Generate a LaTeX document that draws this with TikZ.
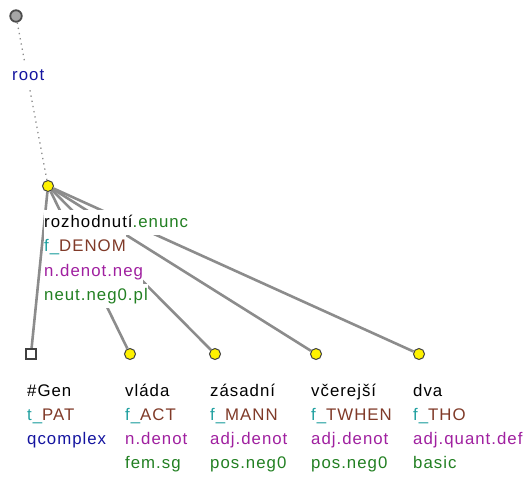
\documentclass[tikz,border=0pt]{standalone}
\usepackage{fontspec}
\setmainfont{Liberation Sans}[LetterSpace=6]
\usetikzlibrary{backgrounds}
\definecolor{cgreen}{RGB}{34,128,34}
\definecolor{cteal}{RGB}{32,160,160}
\definecolor{cbrown}{RGB}{128,58,40}
\definecolor{cmag}{RGB}{160,32,160}
\definecolor{cblue}{RGB}{20,20,160}
\definecolor{edgegray}{RGB}{140,140,140}
\begin{document}
\begin{tikzpicture}[x=1pt,y=-1pt,
  lbl/.style={anchor=base west, fill=white, inner sep=0pt, text height=17pt, text depth=7.5pt, font=\fontsize{16.8}{24}\selectfont},
  edge/.style={draw=edgegray, line width=2.6pt},
  dotedge/.style={draw=edgegray, line width=1.3pt, dash pattern=on 1.3pt off 4pt},
  ynode/.style={circle, fill=yellow, draw=black!75, line width=1pt, minimum size=11pt, inner sep=0pt},
  gnode/.style={circle, fill=black!35, draw=black!70, line width=1.8pt, minimum size=11.5pt, inner sep=0pt},
  snode/.style={rectangle, fill=white, draw=black!75, line width=1.2pt, minimum size=10pt, inner sep=0pt}]
\useasboundingbox (0,0) rectangle (526,476);

% tree nodes
\node[gnode] (root) at (16,16) {};
\node[ynode] (rozh) at (48,186) {};
\node[snode] (gen) at (31,354) {};
\node[ynode] (vlada) at (130,354) {};
\node[ynode] (zasad) at (215,354) {};
\node[ynode] (vcer) at (316,354) {};
\node[ynode] (dva) at (419,354) {};

% edges
\begin{scope}[on background layer]
\draw[dotedge] (root) -- (rozh);
\draw[edge] (rozh) -- (gen);
\draw[edge] (rozh) -- (vlada);
\draw[edge] (rozh) -- (zasad);
\draw[edge] (rozh) -- (vcer);
\draw[edge] (rozh) -- (dva);
\end{scope}

% labels
\node[lbl, text=cblue] (lroot) at (12,81) {root};

\node[lbl] (r1) at (44,227) {rozhodnutí\textcolor{cgreen}{.enunc}};
\node[lbl, text=cteal] (r2) at (44,251.5) {f\_\textcolor{cbrown}{DENOM}};
\node[lbl, text=cmag] (r3) at (44,276) {n.denot.neg};
\node[lbl, text=cgreen] (r4) at (44,300.5) {neut.neg0.pl};

\node[lbl] (g1) at (27,396.5) {\#Gen};
\node[lbl, text=cteal] (g2) at (27,420.5) {t\_\textcolor{cbrown}{PAT}};
\node[lbl, text=cblue] (g3) at (27,444.5) {qcomplex};

\node[lbl] (v1) at (125,396.5) {vláda};
\node[lbl, text=cteal] (v2) at (125,420.5) {f\_\textcolor{cbrown}{ACT}};
\node[lbl, text=cmag] (v3) at (125,444.5) {n.denot};
\node[lbl, text=cgreen] (v4) at (125,468.5) {fem.sg};

\node[lbl] (z1) at (210,396.5) {zásadní};
\node[lbl, text=cteal] (z2) at (210,420.5) {f\_\textcolor{cbrown}{MANN}};
\node[lbl, text=cmag] (z3) at (210,444.5) {adj.denot};
\node[lbl, text=cgreen] (z4) at (210,468.5) {pos.neg0};

\node[lbl] (c1) at (311,396.5) {včerejší};
\node[lbl, text=cteal] (c2) at (311,420.5) {f\_\textcolor{cbrown}{TWHEN}};
\node[lbl, text=cmag] (c3) at (311,444.5) {adj.denot};
\node[lbl, text=cgreen] (c4) at (311,468.5) {pos.neg0};

\node[lbl] (d1) at (413,396.5) {dva};
\node[lbl, text=cteal] (d2) at (413,420.5) {f\_\textcolor{cbrown}{THO}};
\node[lbl, text=cmag] (d3) at (413,444.5) {adj.quant.def};
\node[lbl, text=cgreen] (d4) at (413,468.5) {basic};
\end{tikzpicture}
\end{document}
